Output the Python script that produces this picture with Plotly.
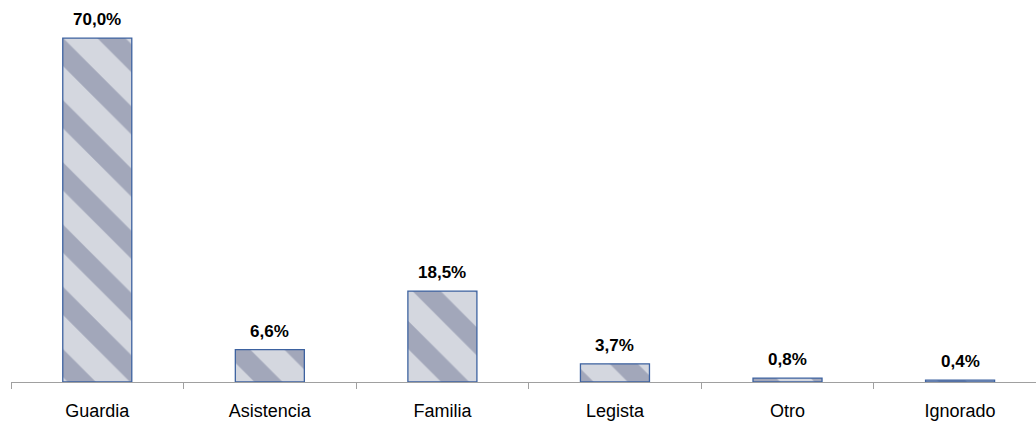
import plotly.graph_objects as go

categories = ["Guardia", "Asistencia", "Familia", "Legista", "Otro", "Ignorado"]
values = [70.0, 6.6, 18.5, 3.7, 0.8, 0.4]
labels = ["70,0%", "6,6%", "18,5%", "3,7%", "0,8%", "0,4%"]

fig = go.Figure()
fig.add_trace(go.Bar(
    x=categories,
    y=values,
    width=0.4,
    marker=dict(
        color="#c3c6d1",
        line=dict(color="#3d62a0", width=1.3),
        pattern=dict(shape="\\", bgcolor="#d4d7df", fgcolor="#a2a7ba",
                     size=44, solidity=0.45, fillmode="replace"),
    ),
    hoverinfo="skip",
))

for c, v, t in zip(categories, values, labels):
    fig.add_annotation(x=c, y=v, text="<b>" + t + "</b>", showarrow=False, yanchor="bottom",
                       yshift=7, font=dict(family="Liberation Sans", size=17, color="#000000"))

fig.update_layout(
    width=1036, height=421,
    margin=dict(l=11, r=0, t=0, b=39),
    paper_bgcolor="white", plot_bgcolor="white",
    showlegend=False,
    xaxis=dict(
        range=[-0.5, 5.44],
        showline=True, linecolor="#a0a0a0", linewidth=1,
        ticks="outside", tickson="boundaries", ticklen=6, tickcolor="#a0a0a0",
        ticklabelstandoff=12,
        tickfont=dict(family="Liberation Sans", size=18, color="#000000"),
        showgrid=False, zeroline=False,
    ),
    yaxis=dict(range=[0, 77.74], visible=False, showgrid=False, zeroline=False),
)

fig.write_html("out.html")
